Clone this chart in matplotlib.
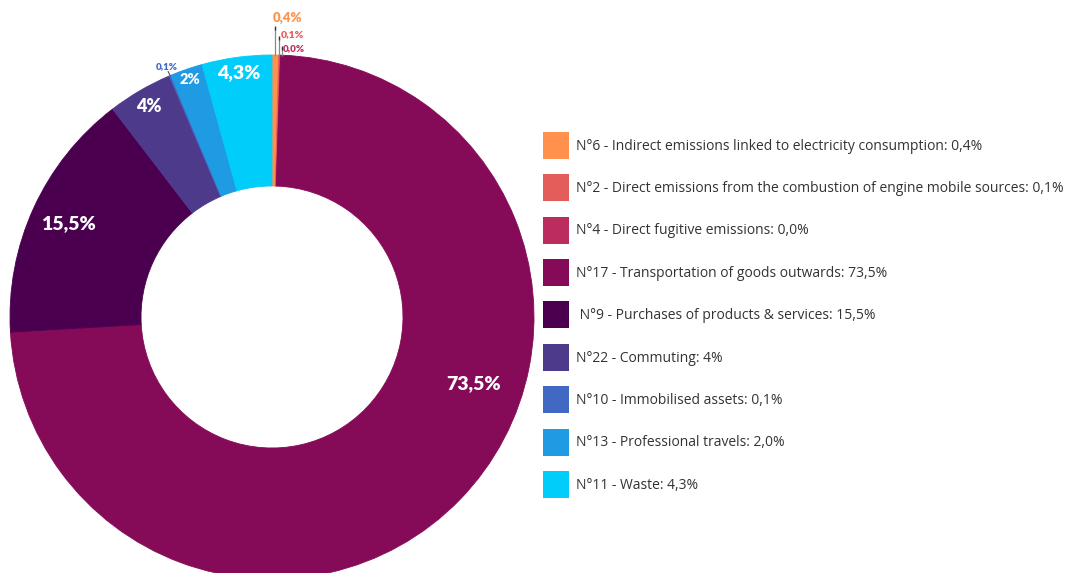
import matplotlib.pyplot as plt
from matplotlib.patches import Patch
import numpy as np

# data (clockwise from the top)
codes = ["N°6", "N°2", "N°4", "N°17", " N°9", "N°22", "N°10", "N°13", "N°11"]
names = ["Indirect emissions linked to electricity consumption",
         "Direct emissions from the combustion of engine mobile sources",
         "Direct fugitive emissions",
         "Transportation of goods outwards",
         "Purchases of products & services",
         "Commuting",
         "Immobilised assets",
         "Professional travels",
         "Waste"]
shares = [0.4, 0.1, 0.03, 73.5, 15.5, 4.0, 0.1, 2.0, 4.3]
share_text = ["0,4%", "0,1%", "0,0%", "73,5%", "15,5%", "4%", "0,1%", "2%", "4,3%"]
legend_text = ["0,4%", "0,1%", "0,0%", "73,5%", "15,5%", "4%", "0,1%", "2,0%", "4,3%"]
colors = ["#FF914D", "#E35D5A", "#BA2D5E", "#850A57", "#4A004F",
          "#4E3A8A", "#4169C4", "#1F9BE3", "#00CDFA"]

W, H = 1070, 573
fig = plt.figure(figsize=(W / 100, H / 100), dpi=100)
ax = fig.add_axes([0, 0, 1, 1])

cx, cy = 272, H - 317
R, r_in = 262, 131

wedges, _ = ax.pie(shares, colors=colors, startangle=90, counterclock=False,
                   radius=R, center=(cx, cy),
                   wedgeprops=dict(width=R - r_in, linewidth=0.6, edgecolor=None))
for w, c in zip(wedges, colors):
    w.set_edgecolor(c)

ax.set_xlim(0, W)
ax.set_ylim(0, H)
ax.set_aspect("equal")
ax.axis("off")

font = "Lato"

# big labels inside the ring: (index, radius fraction, angle override)
inside = {3: (0.81, -18.3), 4: (0.855, None), 5: (0.93, None), 7: (0.96, None), 8: (0.94, None)}
sizes = {3: 14, 4: 14, 5: 13, 7: 10.5, 8: 14}
for i, (frac, ang) in inside.items():
    w = wedges[i]
    if ang is None:
        ang = (w.theta1 + w.theta2) / 2
    a = np.deg2rad(ang)
    ax.text(cx + frac * R * np.cos(a), cy + frac * R * np.sin(a), share_text[i],
            ha="center", va="center", color="white", fontsize=sizes[i],
            fontweight="heavy", family=font)

# small outside labels with leader lines
outside = {0: (275, 28, 273, 18, 9.5), 1: (279, 38, 281, 35, 7.5), 2: (282, 48, 283, 49, 7)}
for i, (lx, ly, tx, ty, fs) in outside.items():
    ax.plot([lx, lx], [cy + R - 1, H - ly], color="#888888", lw=0.9, solid_capstyle="butt")
    ax.plot([lx], [H - ly], marker="|", color="#333333", ms=3, mew=1)
    ax.text(tx, H - ty, share_text[i], ha="left", va="center", color=colors[i],
            fontsize=fs, fontweight="heavy", family=font)

w = wedges[6]
a = np.deg2rad((w.theta1 + w.theta2) / 2)
x0, y0 = cx + R * np.cos(a), cy + R * np.sin(a)
ax.plot([x0, x0 - 2], [y0, y0 + 4], color="#555555", lw=0.8)
ax.text(x0 - 3, y0 + 9, share_text[6], ha="center", va="center", color=colors[6],
        fontsize=7, fontweight="heavy", family=font)

handles = [Patch(facecolor=c, edgecolor="none") for c in colors]
labels = [f"{c} - {n}: {t}" for c, n, t in zip(codes, names, legend_text)]
fs_leg = 10
leg = fig.legend(handles, labels, loc="upper left",
                 bbox_to_anchor=(536 / W, 1 - 125 / H), frameon=False,
                 handlelength=1.87, handleheight=2.61,
                 handletextpad=0.5, labelspacing=1.11, borderpad=0,
                 prop=dict(family="Open Sans", size=fs_leg))
for t in leg.get_texts():
    t.set_color("#333333")

fig.savefig("out.png", dpi=100)
